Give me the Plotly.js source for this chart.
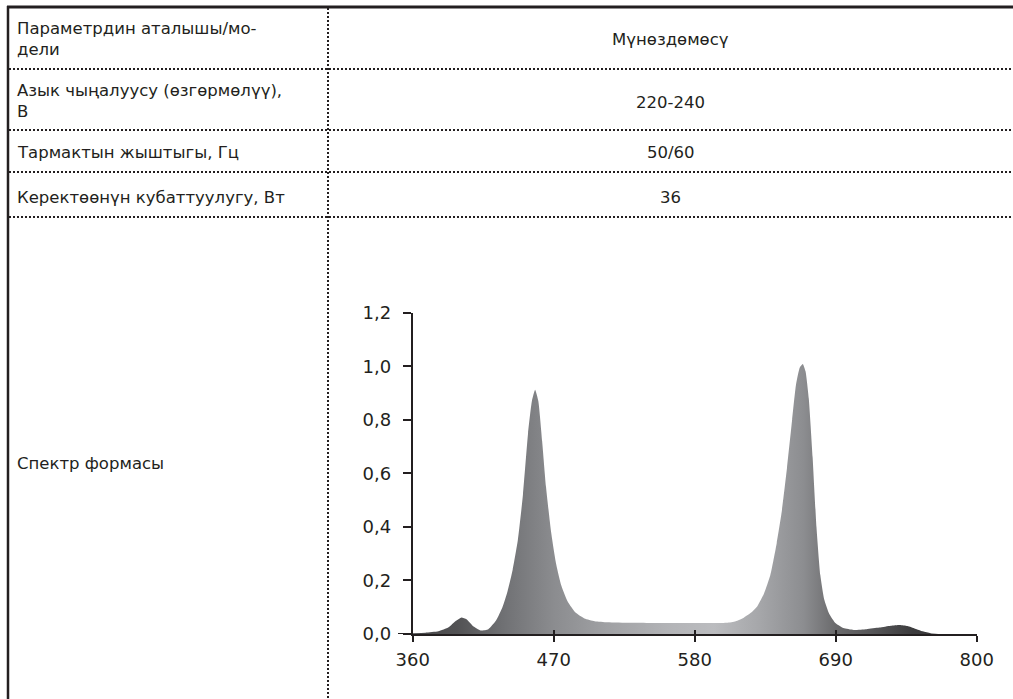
<!DOCTYPE html>
<html>
<head>
<meta charset="utf-8">
<script src="https://cdn.plot.ly/plotly-3.0.1.min.js"></script>
<style>html,body{margin:0;padding:0;background:#fff;}#chart{width:1013px;height:699px;}</style>
</head>
<body>
<div id="chart"></div>
<script>
// ---- Table content ----
const paramNames = [
  "Параметрдин аталышы/мо-<br>дели",
  "Азык чыңалуусу (өзгөрмөлүү),<br>В",
  "Тармактын жыштыгы, Гц",
  "Керектөөнүн кубаттуулугу, Вт",
  "Спектр формасы"
];
const paramValues = ["Мүнөздөмөсү", "220-240", "50/60", "36"];

// ---- Spectrum data (wavelength, nm / relative intensity) ----
const wavelength = [360, 370, 380, 388, 394, 398, 402, 407, 413, 419, 425, 430, 434, 438, 442, 446, 450, 453, 455.5, 458, 461, 464, 468, 472, 476, 481, 487, 494, 502, 512, 530, 560, 590, 605, 612, 618, 624, 629, 634, 639, 644, 648, 652, 656, 659, 662, 664.3, 666.5, 669, 672, 675, 678, 681, 685, 690, 696, 704, 714, 724, 733, 740, 746, 752, 758, 764, 770];
const intensity = [0.003, 0.005, 0.01, 0.025, 0.05, 0.062, 0.055, 0.03, 0.013, 0.018, 0.05, 0.1, 0.16, 0.24, 0.35, 0.52, 0.75, 0.87, 0.912, 0.87, 0.72, 0.55, 0.38, 0.26, 0.18, 0.12, 0.08, 0.058, 0.048, 0.044, 0.042, 0.041, 0.041, 0.042, 0.048, 0.06, 0.08, 0.105, 0.15, 0.22, 0.34, 0.46, 0.62, 0.8, 0.93, 0.995, 1.008, 0.98, 0.88, 0.66, 0.40, 0.22, 0.13, 0.075, 0.04, 0.022, 0.015, 0.018, 0.024, 0.031, 0.034, 0.03, 0.02, 0.01, 0.003, 0];

const xTicks = [360, 470, 580, 690, 800];
const yTicks = [0, 0.2, 0.4, 0.6, 0.8, 1.0, 1.2];

// grayscale gradient stops along wavelength
const gradWl =    [360, 395, 430, 470, 510, 560, 595, 630, 665, 690, 720, 750, 800];
const gradColor = ['#48484a', '#525254', '#6f7073', '#8b8c8f', '#9fa0a3', '#b3b4b7', '#bbbcbf', '#a6a7aa', '#8c8d90', '#6a6a6c', '#555557', '#3c3c3e', '#333335'];

const W = 1013, H = 699;
const px = v => v / W;
const py = v => 1 - v / H;
const ink = '#231f20';
const FONT = '"DejaVu Sans", sans-serif';

const shapes = [];
// outer borders
shapes.push({type:'line', xref:'paper', yref:'paper', x0:px(7), x1:px(1013), y0:py(7), y1:py(7), line:{color:ink, width:3}});
shapes.push({type:'line', xref:'paper', yref:'paper', x0:px(8), x1:px(8), y0:py(6), y1:py(699), line:{color:ink, width:2.5}});
// dotted grid
const rowLines = [69, 130, 172, 217];
rowLines.forEach(y => shapes.push({type:'line', xref:'paper', yref:'paper', x0:px(9), x1:px(1013), y0:py(y), y1:py(y), line:{color:ink, width:2, dash:'2px,2px'}}));
shapes.push({type:'line', xref:'paper', yref:'paper', x0:px(328), x1:px(328), y0:py(8), y1:py(699), line:{color:ink, width:2, dash:'2px,2px'}});
// x-axis line extension left of y-axis
shapes.push({type:'line', xref:'paper', yref:'y', x0:px(398), x1:px(413), y0:0, y1:0, line:{color:ink, width:2}});

const annotations = [];
const leftY = [39, 101, 152, 197, 463];
paramNames.forEach((t, i) => annotations.push({
  text:t, xref:'paper', yref:'paper', x:px(15), y:py(leftY[i]), xanchor:'left', yanchor:'middle',
  align:'left', showarrow:false, font:{family:FONT, size:16.5, color:ink}
}));
const rightY = [40, 102, 152, 197];
paramValues.forEach((t, i) => annotations.push({
  text:t, xref:'paper', yref:'paper', x:px(670.5), y:py(rightY[i]), xanchor:'center', yanchor:'middle',
  showarrow:false, font:{family:FONT, size:16.5, color:ink}
}));

const colorscale = gradWl.map((w, i) => [(w - 360) / 440, gradColor[i]]);

const trace = {
  x: wavelength, y: intensity, type:'scatter', mode:'lines',
  line:{width:0, shape:'spline', smoothing:0.5}, fill:'tozeroy',
  fillgradient:{type:'horizontal', colorscale:colorscale, start:360, stop:800},
  hoverinfo:'skip', showlegend:false
};
const tickTrace = {x:[360, 800], y:[0, 0], xaxis:'x2', yaxis:'y', mode:'lines', line:{width:0}, hoverinfo:'skip', showlegend:false};

const layout = {
  width:W, height:H, margin:{l:0, r:0, t:0, b:0},
  paper_bgcolor:'#fff', plot_bgcolor:'rgba(0,0,0,0)',
  separators:', ',
  showlegend:false,
  xaxis:{
    domain:[px(412.7), px(976.7)], range:[360, 800], anchor:'y',
    showline:true, linecolor:ink, linewidth:2, showgrid:false, zeroline:false,
    tickmode:'array', tickvals:xTicks, ticks:'outside', ticklen:6, tickwidth:2, tickcolor:ink,
    tickfont:{family:FONT, size:18, color:ink}, ticklabelstandoff:2
  },
  xaxis2:{
    domain:[px(412.7), px(976.7)], range:[360, 800], anchor:'y', overlaying:'x',
    showline:false, showgrid:false, zeroline:false, showticklabels:false,
    tickmode:'array', tickvals:xTicks, ticks:'inside', ticklen:4, tickwidth:2, tickcolor:ink
  },
  yaxis:{
    domain:[1 - 634/H, 1 - 312.7/H], range:[0, 1.2], anchor:'x',
    showline:true, linecolor:ink, linewidth:2, showgrid:false, zeroline:false,
    tickmode:'array', tickvals:yTicks, tickformat:'.1f', ticks:'outside', ticklen:8, tickwidth:2, tickcolor:ink,
    tickfont:{family:FONT, size:18, color:ink}, ticklabelstandoff:8
  },
  shapes:shapes, annotations:annotations
};

Plotly.newPlot('chart', [trace, tickTrace], layout, {staticPlot:true, displayModeBar:false});
</script>
</body>
</html>
